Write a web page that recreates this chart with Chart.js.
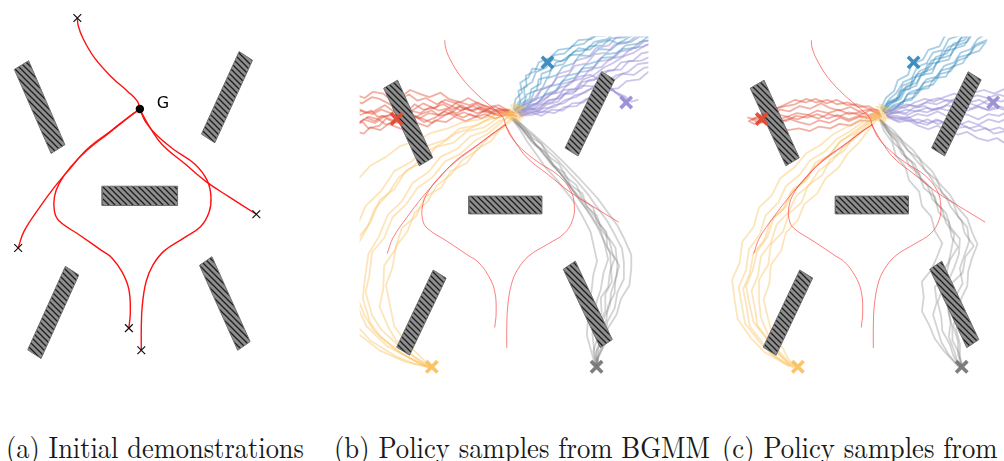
<!DOCTYPE html>
<html>
<head>
<meta charset="utf-8">
<script src="https://cdn.jsdelivr.net/npm/chart.js@4.4.1/dist/chart.umd.min.js"></script>
<style>
  html, body { margin: 0; padding: 0; background: #fff; width: 1004px; height: 461px; overflow: hidden; position: relative; }
  canvas { position: absolute; }
  .cap { position: absolute; font-family: "Liberation Serif", "Times New Roman", "Tinos", "DejaVu Serif", "Noto Serif", serif;
         font-size: 30px; line-height: 30px; white-space: nowrap; color: #1a1a1a; transform-origin: 0 0; }
</style>
</head>
<body>
<canvas id="panelA" width="295" height="385" style="left:0;top:0"></canvas>
<canvas id="panelB" width="312" height="360" style="left:348px;top:25px"></canvas>
<canvas id="panelC" width="312" height="360" style="left:715px;top:25px"></canvas>
<div class="cap" id="capA" style="left:6px;top:431px">(a) Initial demonstrations</div>
<div class="cap" id="capB" style="left:334px;top:431px">(b) Policy samples from BGMM</div>
<div class="cap" id="capC" style="left:722px;top:431px">(c) Policy samples from</div>
<script>
// ---- environment (workspace units) ----
const goal = [0, 9];
const goalText = 'G';

// rotated box obstacles, corners in order
const obstacles = [
  [[-13.15, 13.1], [-11.65, 14.0], [-7.85, 5.3], [-9.3, 4.4]],
  [[6.45, 6.4], [10.4, 14.95], [11.8, 14.05], [7.85, 5.5]],
  [[-3.95, -1.0], [3.95, -1.0], [3.95, 1.0], [-3.95, 1.0]],
  [[-11.75, -15.95], [-7.8, -7.3], [-6.4, -8.2], [-10.35, -16.85]],
  [[6.25, -7.2], [7.55, -6.3], [11.55, -15.1], [10.25, -16.0]]
];

// ---- demonstrations ----
const demoTop = [[-6.55, 18.43], [-6.45, 17.6], [-5.95, 16.3], [-4.75, 14.3], [-2.95, 12.3], [-1.25, 10.8], [-0.25, 9.8], [0, 9]];
const demoLeft = [[-12.75, -5.4], [-12.15, -3.7], [-10.65, -1.4], [-8.95, 0.9], [-7.25, 2.9], [-5.45, 4.9], [-2.95, 6.8], [-1.15, 8.2], [0, 9]];
const demoLowLeft = [[-1.15, -13.7], [-1.0, -12.1], [-1.15, -9.7], [-1.85, -7.9], [-2.95, -6.4], [-3.95, -5.7], [-6.25, -4.1], [-8.45, -2.6], [-8.95, -1.6], [-8.95, -0.1], [-8.45, 1.3], [-7.25, 3.0], [-5.45, 4.8], [-3.25, 6.5], [-0.95, 8.3], [0, 9]];
const demoLowRight = [[0.15, -16.0], [0.15, -13.7], [0.25, -11.4], [0.65, -8.9], [1.35, -7.2], [2.55, -5.7], [4.55, -4.4], [6.35, -3.2], [7.25, -1.7], [7.45, -0.1], [7.05, 1.6], [5.75, 3.3], [3.55, 4.8], [1.75, 6.3], [0.65, 7.6], [0.15, 8.6], [0, 9]];
const demoRight = [[12.2, -1.9], [9.35, -0.1], [7.05, 1.4], [4.75, 3.3], [2.35, 5.3], [1.05, 7.1], [0.25, 8.5], [0, 9]];
const demoStarts = [[-6.55, 18.43], [-12.75, -5.4], [-1.15, -13.7], [0.15, -16.0], [12.2, -1.9]];

// ---- policy samples, BGMM ----
const bgmmRed = [
  [[-16.6, 10.4], [-15.7, 10.1], [-14.5, 10.6], [-13.8, 9.9], [-12.5, 10.0], [-11.9, 10.8], [-10.6, 10.5], [-9.8, 11.3], [-8.9, 10.7], [-7.5, 10.9], [-6.9, 11.6], [-5.6, 11.0], [-4.8, 10.6], [-3.5, 11.1], [-2.4, 10.5], [-1.6, 10.8], [-0.4, 10.3], [0.8, 10.4]],
  [[-16.5, 9.0], [-15.4, 9.3], [-14.8, 8.6], [-13.6, 8.9], [-12.9, 9.7], [-11.8, 9.2], [-10.7, 9.4], [-10.0, 10.1], [-8.8, 9.6], [-7.9, 9.2], [-6.8, 9.9], [-5.9, 10.4], [-4.6, 9.8], [-3.8, 10.2], [-2.6, 9.7], [-1.5, 10.3], [-0.5, 10.0], [0.9, 10.1]],
  [[-16.3, 11.8], [-15.5, 11.4], [-14.4, 12.1], [-13.6, 11.9], [-12.3, 11.2], [-11.6, 11.8], [-10.4, 12.4], [-9.5, 11.7], [-8.6, 12.0], [-7.4, 11.3], [-6.5, 11.8], [-5.3, 11.4], [-4.4, 10.8], [-3.2, 11.3], [-2.3, 10.7], [-1.1, 11.0], [0.0, 10.5], [1.0, 10.3]],
  [[-16.4, 8.3], [-15.3, 8.0], [-14.6, 8.7], [-13.5, 8.4], [-12.6, 9.1], [-11.4, 8.6], [-10.6, 8.4], [-9.5, 9.2], [-8.4, 8.8], [-7.6, 9.5], [-6.4, 9.3], [-5.5, 9.9], [-4.3, 9.4], [-3.4, 9.8], [-2.2, 10.2], [-1.1, 9.7], [0.2, 10.2], [1.2, 10.0]],
  [[-16.0, 10.9], [-15.1, 10.3], [-14.2, 10.5], [-13.0, 11.2], [-12.2, 10.6], [-11.0, 10.1], [-10.1, 9.6], [-9.1, 10.2], [-8.0, 10.6], [-7.1, 10.0], [-5.9, 10.3], [-5.0, 11.0], [-3.9, 10.6], [-2.9, 10.9], [-1.7, 10.4], [-0.6, 10.8], [0.4, 10.6]],
  [[-15.0, 9.8], [-14.1, 9.4], [-13.3, 10.0], [-12.1, 9.5], [-11.2, 9.9], [-10.3, 10.6], [-9.2, 10.3], [-8.1, 11.0], [-7.2, 10.6], [-6.0, 10.9], [-5.1, 11.6], [-3.9, 11.2], [-3.0, 11.5], [-1.8, 10.9], [-0.8, 10.6], [0.5, 10.7]],
  [[-16.3, 12.4], [-15.2, 12.0], [-14.3, 12.7], [-13.2, 12.5], [-12.4, 11.8], [-11.2, 12.2], [-10.3, 12.9], [-9.1, 12.4], [-8.2, 12.1], [-7.0, 12.6], [-6.1, 11.9], [-4.9, 11.5], [-4.0, 12.0], [-2.8, 11.3], [-1.8, 11.0], [-0.7, 11.2], [0.3, 10.6]],
  [[-15.7, 9.3], [-14.8, 9.9], [-13.7, 9.6], [-12.9, 9.0], [-11.7, 9.5], [-10.9, 10.2], [-9.7, 9.9], [-8.8, 9.3], [-7.6, 9.8], [-6.6, 10.5], [-5.5, 10.0], [-4.5, 10.4], [-3.3, 9.9], [-2.4, 10.5], [-1.2, 10.2], [0.7, 10.5]],
  [[-16.5, 10.0], [-15.5, 10.6], [-14.4, 10.2], [-13.4, 10.7], [-12.4, 10.3], [-11.3, 9.8], [-10.4, 10.2], [-9.3, 9.7], [-8.3, 10.3], [-7.3, 10.1], [-6.3, 10.7], [-5.3, 10.3], [-4.2, 10.9], [-3.1, 10.3], [-2.0, 10.6], [-0.9, 10.1], [0.6, 10.3]],
  [[-16.2, 8.9], [-15.3, 9.6], [-14.1, 9.2], [-13.1, 9.9], [-11.9, 10.4], [-11.0, 9.9], [-9.9, 10.7], [-8.9, 11.4], [-7.8, 10.9], [-6.7, 11.3], [-5.8, 10.7], [-4.7, 11.2], [-3.6, 10.5], [-2.5, 11.0], [-1.4, 10.4], [0.2, 10.6]]
];
const bgmmBlue = [
  [[1.0, 10.6], [1.4, 11.5], [2.1, 12.1], [2.0, 13.2], [2.9, 13.8], [3.3, 14.9], [4.4, 15.4], [5.1, 16.3], [6.0, 16.1], [7.1, 16.9], [7.9, 17.6], [9.1, 17.4], [10.0, 18.2], [11.3, 18.5], [12.2, 18.1], [13.5, 18.9], [14.6, 19.4], [16.0, 19.6]],
  [[1.2, 10.4], [1.9, 11.2], [2.7, 11.6], [3.1, 12.7], [4.0, 13.1], [4.5, 14.2], [5.6, 14.6], [6.2, 15.5], [7.4, 15.9], [8.0, 16.8], [9.2, 16.7], [10.1, 17.5], [11.4, 17.4], [12.3, 18.2], [13.6, 18.3], [14.5, 18.9], [16.2, 19.0]],
  [[0.9, 10.8], [1.1, 11.9], [1.8, 12.6], [1.6, 13.7], [2.5, 14.3], [2.9, 15.3], [3.8, 15.2], [4.4, 16.2], [5.3, 16.8], [6.4, 17.0], [7.2, 17.8], [8.5, 18.1], [9.4, 18.9], [10.8, 19.0], [12.0, 19.7]],
  [[1.3, 10.3], [2.2, 10.9], [3.0, 11.8], [4.1, 12.2], [4.8, 13.3], [5.9, 13.6], [6.7, 14.5], [7.9, 14.8], [8.6, 15.7], [9.9, 16.1], [10.8, 16.9], [12.1, 17.1], [13.0, 17.9], [14.4, 18.1], [15.3, 18.8], [16.6, 19.0]],
  [[1.1, 10.5], [1.7, 11.4], [2.6, 11.9], [2.8, 13.0], [3.8, 13.6], [3.9, 14.7], [4.9, 15.1], [5.5, 16.0], [6.6, 16.3], [7.4, 17.2], [8.8, 17.4], [9.6, 18.3], [11.0, 18.6], [11.9, 19.4], [13.4, 19.6]],
  [[1.0, 10.7], [2.0, 11.3], [2.3, 12.4], [3.4, 12.9], [3.6, 14.1], [4.7, 14.4], [5.0, 15.5], [6.3, 15.8], [6.9, 16.8], [8.2, 16.9], [9.0, 17.8], [10.5, 17.9], [11.4, 18.7], [12.9, 18.8], [14.1, 19.6]],
  [[1.2, 10.6], [1.6, 11.6], [1.4, 12.8], [2.3, 13.3], [2.2, 14.5], [3.2, 15.0], [3.6, 16.0], [4.8, 16.5], [5.7, 17.4], [7.0, 17.6], [7.9, 18.5], [9.3, 18.6], [10.2, 19.4], [11.6, 19.6]],
  [[1.4, 10.4], [2.4, 11.0], [3.5, 11.4], [4.3, 12.4], [5.4, 12.8], [6.2, 13.9], [7.5, 14.3], [8.3, 15.3], [9.6, 15.5], [10.4, 16.5], [11.8, 16.6], [12.7, 17.5], [14.1, 17.6], [15.0, 18.4], [16.4, 18.6]]
];
const bgmmPurple = [
  [[1.5, 10.3], [2.5, 10.8], [3.6, 10.5], [4.5, 11.3], [5.7, 11.6], [6.4, 12.5], [7.6, 12.8], [8.3, 13.8], [9.6, 14.0], [10.4, 14.9], [11.7, 15.1], [12.5, 16.0], [13.8, 16.2], [14.7, 17.0], [16.2, 17.3]],
  [[1.4, 10.5], [2.3, 11.2], [3.4, 11.4], [4.2, 12.3], [5.4, 12.6], [6.1, 13.6], [7.3, 13.9], [8.0, 14.9], [9.3, 15.1], [10.0, 16.1], [11.4, 16.3], [12.2, 17.2], [13.6, 17.4], [14.5, 18.3], [15.9, 18.5]],
  [[1.6, 10.1], [2.8, 10.4], [3.9, 10.0], [5.0, 10.7], [6.2, 10.6], [7.2, 11.4], [8.4, 11.5], [9.4, 12.3], [10.6, 12.4], [11.5, 13.0], [12.2, 12.4], [12.7, 11.8], [13.1, 11.5]],
  [[1.5, 10.2], [2.6, 10.7], [3.8, 10.9], [4.7, 11.8], [6.0, 12.0], [6.9, 12.9], [8.2, 13.1], [9.0, 14.0], [10.3, 14.2], [11.1, 15.1], [12.5, 15.2], [13.3, 16.1], [14.7, 16.2], [16.2, 16.9]],
  [[1.3, 10.6], [2.1, 11.5], [3.1, 11.9], [3.8, 12.9], [4.9, 13.3], [5.6, 14.3], [6.8, 14.6], [7.5, 15.6], [8.8, 15.9], [9.6, 16.9], [11.0, 17.1], [11.8, 18.0], [13.2, 18.2], [14.2, 19.0], [15.7, 19.3]],
  [[1.7, 10.0], [2.9, 10.1], [4.1, 10.5], [5.3, 10.3], [6.4, 11.0], [7.7, 11.1], [8.7, 11.9], [10.0, 12.1], [10.9, 12.9], [12.2, 13.1], [13.1, 13.9], [14.5, 14.1], [15.4, 14.9], [16.6, 15.2]],
  [[1.5, 10.4], [2.5, 11.0], [3.7, 11.6], [4.6, 12.2], [5.8, 13.1], [6.9, 13.5], [7.9, 14.4], [9.2, 14.6], [10.1, 14.1], [11.2, 13.4], [11.9, 12.6], [12.8, 12.1], [13.2, 11.6]],
  [[1.6, 10.2], [2.7, 10.6], [3.9, 11.3], [5.0, 11.5], [6.1, 12.4], [7.3, 12.5], [8.2, 13.4], [9.5, 13.3], [10.5, 14.0], [11.6, 13.9], [12.6, 14.7], [13.9, 14.6], [15.0, 15.4], [16.4, 15.5]],
  [[1.4, 10.4], [2.2, 11.3], [3.3, 11.8], [3.9, 13.0], [5.1, 13.5], [5.7, 14.7], [7.0, 15.1], [7.6, 16.2], [9.0, 16.6], [9.8, 17.6], [11.2, 17.9], [12.0, 18.8], [13.5, 19.1], [14.9, 19.8]],
  [[1.6, 10.3], [2.6, 10.9], [3.5, 10.7], [4.4, 11.6], [5.5, 11.9], [6.3, 12.9], [7.5, 13.0], [8.4, 14.1], [9.5, 14.5], [10.6, 15.4], [11.6, 15.9], [12.8, 16.7], [13.9, 17.1], [15.1, 17.9], [16.3, 18.1]],
  [[1.7, 10.1], [2.9, 10.5], [4.0, 10.4], [5.2, 11.2], [6.3, 11.4], [7.5, 12.3], [8.6, 12.6], [9.8, 13.5], [10.8, 13.6], [11.9, 14.5], [13.2, 14.9], [14.3, 15.8], [15.6, 16.0], [16.6, 16.7]],
  [[1.5, 10.2], [2.7, 10.9], [3.8, 11.4], [4.9, 12.4], [6.0, 12.7], [7.0, 13.8], [8.3, 14.2], [9.1, 15.2], [10.4, 15.5], [11.3, 16.4], [12.7, 16.7], [13.6, 17.6], [15.0, 17.8], [16.4, 18.6]],
  [[1.6, 10.0], [2.8, 10.3], [4.0, 10.8], [5.3, 11.0], [6.5, 11.8], [7.6, 12.1], [8.9, 12.9], [9.9, 13.2], [11.1, 13.1], [12.0, 12.6], [12.9, 12.2], [13.6, 11.6], [14.3, 11.8]]
];
const bgmmGray = [
  [[0.8, 9.8], [1.9, 8.5], [2.7, 7.4], [4.1, 6.0], [4.9, 4.8], [6.2, 3.3], [7.0, 2.1], [8.1, 0.5], [8.9, -0.7], [9.9, -2.4], [10.5, -3.7], [11.3, -5.4], [11.4, -6.8], [11.5, -8.6], [10.8, -10.0], [10.8, -11.9], [10.1, -13.3], [10.3, -15.1], [9.8, -16.5], [9.8, -18.1]],
  [[1.0, 9.6], [2.2, 8.4], [3.2, 7.6], [4.5, 6.1], [5.5, 5.2], [6.8, 3.7], [7.7, 2.7], [9.0, 1.1], [9.8, -0.1], [11.0, -1.8], [11.7, -3.1], [12.6, -4.9], [12.8, -6.4], [12.8, -8.3], [12.1, -9.8], [11.8, -11.6], [11.0, -13.1], [10.8, -15.0], [10.1, -16.5], [9.9, -18.1]],
  [[0.6, 9.9], [1.6, 8.4], [2.3, 7.2], [3.4, 5.6], [4.2, 4.4], [5.5, 2.9], [6.4, 1.7], [7.6, 0.1], [8.3, -1.2], [9.2, -3.0], [9.5, -4.4], [9.9, -6.3], [9.5, -7.8], [9.3, -9.7], [8.9, -11.2], [8.9, -13.1], [8.8, -14.6], [9.3, -16.5], [9.7, -18.0]],
  [[1.2, 9.5], [2.6, 8.3], [3.7, 7.3], [5.2, 5.9], [6.2, 4.9], [7.6, 3.4], [8.6, 2.3], [10.0, 0.7], [10.9, -0.6], [12.1, -2.3], [12.8, -3.7], [13.6, -5.6], [13.6, -7.1], [13.4, -9.0], [12.5, -10.5], [12.0, -12.3], [11.1, -13.8], [10.7, -15.7], [10.0, -17.1], [9.9, -18.2]],
  [[0.9, 9.7], [2.1, 8.2], [3.0, 7.1], [4.3, 5.5], [5.2, 4.5], [6.4, 2.9], [7.2, 1.7], [8.4, 0.0], [9.3, -1.2], [10.3, -2.9], [10.7, -4.3], [11.1, -6.1], [10.6, -7.6], [10.3, -9.5], [9.8, -11.0], [9.8, -12.9], [9.4, -14.4], [9.6, -16.3], [9.8, -18.1]],
  [[0.7, 9.6], [1.7, 8.6], [2.9, 7.0], [3.8, 6.2], [5.0, 4.5], [5.9, 3.6], [7.2, 1.8], [8.0, 0.9], [9.3, -0.8], [10.1, -1.9], [11.1, -3.6], [11.9, -4.8], [12.1, -6.8], [12.0, -8.0], [11.4, -9.9], [11.3, -11.2], [10.5, -13.0], [10.4, -14.4], [10.0, -16.2], [9.9, -18.0]],
  [[0.8, 9.6], [1.5, 8.9], [2.6, 7.9], [3.3, 6.7], [4.5, 5.8], [5.2, 4.4], [6.4, 3.6], [7.0, 2.3], [8.3, 1.3], [8.8, -0.2], [9.9, -1.2], [10.3, -2.7], [11.2, -3.9], [11.6, -5.5], [12.3, -6.8], [11.9, -8.3], [11.8, -9.9], [11.1, -11.3], [10.9, -12.9], [10.4, -14.3], [10.5, -16.0], [10.0, -17.2], [9.9, -18.1]],
  [[1.1, 9.7], [2.0, 8.8], [2.8, 7.6], [3.9, 6.9], [4.6, 5.5], [5.8, 4.6], [6.5, 3.2], [7.7, 2.2], [8.3, 0.7], [9.5, -0.3], [9.9, -1.9], [10.9, -3.0], [11.0, -4.7], [11.8, -6.0], [11.3, -7.5], [11.1, -9.2], [10.3, -10.4], [10.4, -12.1], [9.7, -13.4], [9.9, -15.1], [9.5, -16.4], [9.8, -18.0]]
];
const bgmmYellow = [
  [[0.8, 10.2], [-0.4, 9.3], [-1.9, 8.0], [-3.3, 7.2], [-4.9, 5.7], [-6.5, 4.9], [-7.9, 3.1], [-9.5, 1.9], [-10.7, 0.1], [-12.2, -1.4], [-13.1, -3.7], [-14.4, -5.3], [-14.7, -7.9], [-15.1, -9.8], [-14.4, -12.4], [-13.4, -14.0], [-11.4, -15.9], [-10.0, -16.9], [-8.2, -18.1]],
  [[0.6, 10.4], [-0.9, 9.7], [-2.3, 8.7], [-4.1, 8.3], [-5.6, 7.0], [-7.5, 6.5], [-8.9, 4.8], [-10.7, 3.9], [-12.0, 1.8], [-13.6, 0.5], [-14.6, -2.0], [-15.9, -3.7], [-16.2, -6.7], [-16.6, -8.8], [-15.8, -11.8], [-15.0, -13.6], [-12.8, -15.8], [-11.0, -16.8], [-8.5, -18.1]],
  [[1.0, 10.0], [-0.4, 8.8], [-1.5, 7.2], [-3.0, 6.3], [-4.2, 4.7], [-5.9, 3.8], [-6.9, 2.0], [-8.7, 0.9], [-9.6, -1.2], [-11.2, -2.6], [-11.9, -5.0], [-13.1, -6.8], [-13.2, -9.5], [-13.6, -11.4], [-12.6, -13.8], [-11.8, -15.2], [-9.8, -17.1], [-8.4, -18.0]],
  [[0.5, 10.5], [-1.3, 10.0], [-2.9, 9.0], [-4.9, 8.6], [-6.5, 7.3], [-8.5, 6.6], [-10.1, 4.9], [-12.0, 3.8], [-13.4, 1.6], [-15.1, -0.1], [-16.2, -2.8], [-17.3, -5.0], [-17.5, -8.2], [-17.4, -10.6], [-16.0, -13.6], [-14.6, -15.2], [-11.8, -17.0], [-9.8, -17.8], [-8.0, -18.2]],
  [[0.9, 10.1], [-0.7, 9.4], [-2.1, 8.3], [-3.8, 7.7], [-5.2, 6.3], [-7.0, 5.4], [-8.3, 3.7], [-10.0, 2.5], [-11.2, 0.4], [-12.7, -1.1], [-13.7, -3.6], [-14.8, -5.5], [-15.2, -8.4], [-15.4, -10.5], [-14.6, -13.2], [-13.5, -14.8], [-11.1, -16.7], [-9.5, -17.6], [-8.0, -18.3]],
  [[0.7, 10.3], [-0.6, 9.9], [-2.3, 9.4], [-3.8, 8.6], [-5.4, 8.0], [-6.9, 6.9], [-8.6, 5.9], [-9.9, 4.4], [-11.5, 3.1], [-12.7, 1.2], [-14.1, -0.4], [-15.0, -2.7], [-16.0, -4.5], [-16.1, -7.4], [-16.3, -9.6], [-15.2, -12.4], [-14.2, -14.1], [-11.9, -16.2], [-10.2, -17.3], [-8.3, -18.2]],
  [[1.1, 9.9], [-0.3, 8.6], [-1.8, 7.6], [-3.1, 6.1], [-4.7, 5.0], [-5.9, 3.4], [-7.4, 2.2], [-8.4, 0.4], [-9.8, -0.9], [-10.6, -3.0], [-11.8, -4.6], [-12.2, -7.0], [-12.9, -9.0], [-12.4, -11.6], [-12.0, -13.6], [-10.6, -15.6], [-9.3, -16.9], [-8.1, -18.1]],
  [[0.6, 10.4], [-1.1, 10.1], [-2.8, 9.6], [-4.6, 9.3], [-6.2, 8.6], [-8.0, 8.1], [-9.6, 7.2], [-11.4, 6.6], [-12.9, 5.4], [-14.6, 4.4], [-16.0, 2.8], [-17.2, 0.8], [-18.0, -2.0], [-18.3, -5.0], [-18.2, -8.5], [-17.6, -11.5], [-16.2, -14.2], [-13.6, -16.3], [-10.8, -17.6], [-8.4, -18.2]],
  [[0.2, 10.8], [1.4, 10.1], [0.5, 9.6], [1.8, 10.9], [0.9, 11.4], [2.0, 10.2], [0.4, 10.3], [1.6, 9.5], [1.1, 11.0]],
  [[1.3, 11.2], [0.3, 10.0], [1.9, 9.8], [1.0, 10.6], [2.2, 11.0], [0.6, 11.2], [1.4, 9.3], [0.1, 9.9]]
];
const bgmmStarts = { red: [-11.75, 9.65], blue: [4.55, 16.0], purple: [13.05, 11.5], gray: [9.85, -18.15], yellow: [-7.95, -18.15] };

// ---- policy samples, second model ----
const modelRed = [
  [[0.8, 10.3], [-0.2, 10.7], [-1.4, 10.5], [-2.3, 11.0], [-3.5, 10.6], [-4.6, 10.9], [-5.5, 11.4], [-6.7, 10.8], [-7.8, 11.1], [-8.9, 10.5], [-9.9, 10.7], [-11.0, 10.2], [-12.1, 9.9], [-13.2, 9.5]],
  [[0.9, 10.1], [-0.2, 9.7], [-1.3, 9.9], [-2.5, 9.4], [-3.4, 9.8], [-4.6, 9.2], [-5.7, 9.5], [-6.7, 9.0], [-7.9, 9.3], [-9.0, 9.7], [-10.1, 9.2], [-11.2, 9.5], [-12.3, 9.3], [-13.0, 9.6]],
  [[0.7, 10.5], [-0.4, 11.1], [-1.5, 11.0], [-2.6, 11.5], [-3.8, 11.3], [-4.8, 11.8], [-6.0, 11.5], [-7.1, 11.9], [-8.3, 11.3], [-9.3, 11.1], [-10.5, 10.8], [-11.5, 10.2], [-12.2, 9.8]],
  [[1.0, 10.0], [-0.1, 9.4], [-1.2, 9.5], [-2.3, 8.9], [-3.5, 9.1], [-4.5, 8.6], [-5.7, 8.8], [-6.7, 8.3], [-7.9, 8.6], [-9.0, 8.4], [-10.1, 8.8], [-11.2, 9.2], [-12.3, 9.4]],
  [[0.8, 10.4], [-0.3, 10.1], [-1.4, 10.4], [-2.5, 10.2], [-3.6, 10.7], [-4.7, 10.3], [-5.9, 10.6], [-6.9, 10.1], [-8.1, 10.3], [-9.2, 9.9], [-10.3, 10.2], [-11.4, 9.8], [-12.5, 9.6], [-13.4, 9.8]],
  [[0.9, 10.2], [-0.2, 10.6], [-1.3, 10.1], [-2.5, 10.4], [-3.6, 9.9], [-4.7, 10.2], [-5.8, 9.7], [-6.9, 10.1], [-8.0, 9.6], [-9.2, 9.9], [-10.3, 9.5], [-11.4, 9.7], [-12.0, 9.5]],
  [[0.7, 10.6], [-0.4, 10.8], [-1.6, 11.3], [-2.7, 11.2], [-3.8, 11.8], [-4.9, 11.4], [-6.1, 11.9], [-7.2, 11.5], [-8.3, 11.8], [-9.5, 11.2], [-10.6, 10.7], [-11.7, 10.3], [-12.8, 9.7]],
  [[0.8, 10.2], [-0.3, 9.9], [-1.4, 10.0], [-2.5, 9.6], [-3.7, 10.1], [-4.8, 9.7], [-5.9, 10.2], [-7.0, 9.8], [-8.2, 10.0], [-9.3, 9.4], [-10.4, 9.7], [-11.6, 9.3], [-12.7, 9.1], [-13.3, 9.4]]
];
const modelBlue = [
  [[1.2, 10.6], [1.8, 11.6], [2.9, 12.1], [3.3, 13.4], [4.5, 13.9], [5.1, 15.0], [6.3, 15.5], [6.9, 16.6], [8.1, 17.0], [8.8, 18.1], [10.0, 18.5], [10.8, 19.6]],
  [[1.4, 10.4], [2.3, 11.2], [3.3, 11.5], [4.0, 12.6], [5.1, 13.0], [5.9, 14.1], [7.0, 14.4], [7.8, 15.6], [8.9, 16.0], [9.6, 17.1], [10.7, 17.5], [11.4, 18.6], [12.3, 19.2]],
  [[1.0, 10.9], [1.5, 12.0], [2.4, 12.8], [2.8, 14.0], [3.9, 14.6], [4.3, 15.8], [5.5, 16.3], [6.1, 17.4], [7.3, 17.8], [7.9, 19.0], [9.0, 19.5]],
  [[1.3, 10.5], [2.1, 11.5], [3.0, 12.1], [3.7, 13.3], [4.8, 13.7], [5.5, 14.9], [6.6, 15.3], [7.3, 16.4], [8.5, 16.8], [9.2, 17.9], [10.3, 18.3], [11.0, 19.4]],
  [[1.5, 10.3], [2.6, 10.9], [3.6, 11.8], [4.6, 12.1], [5.5, 13.2], [6.6, 13.5], [7.4, 14.7], [8.5, 15.0], [9.3, 16.2], [10.3, 16.6], [11.0, 17.7], [12.0, 18.2]],
  [[1.1, 10.7], [1.9, 11.9], [2.6, 12.5], [3.4, 13.8], [4.3, 14.2], [4.9, 15.5], [5.9, 15.9], [6.6, 17.1], [7.7, 17.4], [8.3, 18.6], [9.4, 19.0], [10.1, 19.9]],
  [[1.3, 10.5], [2.0, 11.3], [3.1, 11.9], [3.6, 12.9], [4.8, 13.4], [5.3, 14.6], [6.5, 14.8], [7.0, 16.0], [8.3, 16.3], [8.8, 17.5], [10.0, 17.9], [10.6, 19.0], [11.6, 19.5]],
  [[1.2, 10.5], [1.7, 11.4], [2.6, 11.7], [3.0, 12.8], [4.1, 13.0], [4.4, 14.3], [5.6, 14.6], [6.0, 15.8], [7.2, 16.0], [7.6, 17.2], [8.9, 17.5], [9.5, 18.6], [10.6, 19.2]],
  [[1.4, 10.3], [2.4, 10.7], [3.2, 11.6], [4.3, 11.8], [4.9, 12.9], [6.1, 13.1], [6.7, 14.2], [8.0, 14.4], [8.6, 15.5], [9.8, 15.9], [10.4, 16.9], [11.6, 17.3], [12.3, 18.3]],
  [[1.3, 10.6], [1.9, 11.5], [2.8, 11.9], [3.4, 13.0], [4.3, 13.5], [4.8, 14.6], [5.9, 15.0], [6.4, 16.2], [7.6, 16.6], [8.2, 17.7], [9.3, 18.1], [9.9, 19.3]],
  [[1.4, 10.4], [2.2, 11.0], [3.3, 11.3], [3.8, 12.4], [4.9, 12.6], [5.6, 13.7], [6.7, 14.0], [7.5, 15.1], [8.7, 15.4], [9.4, 16.6], [10.6, 16.9], [11.2, 18.0], [12.4, 18.5]]
];
const modelPurple = [
  [[1.6, 10.2], [2.6, 10.5], [3.7, 10.3], [4.5, 10.9], [5.7, 11.1], [6.5, 10.6], [7.7, 11.0], [8.6, 11.6], [9.8, 11.3], [10.7, 10.8], [11.9, 11.4], [12.8, 11.9], [14.0, 11.6], [15.0, 12.1]],
  [[1.7, 10.0], [2.8, 9.7], [3.9, 9.9], [4.8, 9.3], [6.0, 9.0], [6.9, 9.6], [8.1, 9.2], [9.0, 8.6], [10.2, 8.8], [11.1, 8.3], [12.3, 8.6], [13.2, 8.0], [14.4, 8.3], [15.3, 7.8]],
  [[1.5, 10.4], [2.5, 11.0], [3.6, 10.9], [4.6, 11.5], [5.7, 11.9], [6.7, 11.6], [7.8, 12.1], [8.9, 12.5], [10.0, 12.1], [11.0, 12.6], [12.1, 12.9], [13.2, 12.5], [14.3, 13.0], [15.3, 12.8]],
  [[1.8, 9.8], [2.9, 9.3], [3.9, 9.5], [5.0, 8.9], [6.1, 8.5], [7.1, 8.9], [8.2, 8.2], [9.3, 7.9], [10.3, 8.2], [11.4, 7.5], [12.5, 7.2], [13.5, 7.5], [14.6, 6.8], [15.5, 6.5]],
  [[1.6, 10.1], [2.7, 10.0], [3.8, 9.7], [4.9, 10.2], [6.0, 10.0], [7.1, 10.5], [8.2, 9.9], [9.3, 10.3], [10.4, 10.1], [11.5, 9.6], [12.6, 10.2], [13.7, 10.0], [14.8, 10.5], [15.6, 10.2]],
  [[1.7, 10.2], [2.8, 10.7], [3.9, 11.2], [5.0, 11.0], [6.1, 11.7], [7.2, 12.0], [8.3, 11.6], [9.4, 12.1], [10.5, 11.5], [11.6, 11.8], [12.5, 11.3], [13.3, 11.6]],
  [[1.6, 10.0], [2.7, 9.5], [3.8, 9.7], [4.9, 9.2], [6.0, 9.6], [7.1, 9.1], [8.2, 9.4], [9.3, 8.9], [10.4, 9.4], [11.5, 9.0], [12.6, 9.6], [13.7, 9.3], [14.8, 9.8], [15.6, 9.5]],
  [[1.5, 10.3], [2.6, 10.3], [3.7, 10.7], [4.8, 10.5], [5.9, 10.9], [7.0, 10.7], [8.1, 11.2], [9.2, 10.8], [10.3, 11.5], [11.4, 11.1], [12.5, 10.7], [13.6, 11.1], [14.7, 10.8], [15.6, 11.2]],
  [[1.6, 10.1], [2.7, 10.4], [3.8, 10.1], [4.9, 10.6], [6.0, 10.4], [7.1, 10.9], [8.2, 10.6], [9.3, 11.0], [10.4, 10.6], [11.5, 11.0], [12.6, 10.6], [13.7, 10.9], [14.8, 10.5], [15.6, 10.8]],
  [[1.7, 9.9], [2.8, 9.8], [3.9, 9.4], [5.0, 9.6], [6.1, 9.2], [7.2, 9.5], [8.3, 8.9], [9.4, 9.2], [10.5, 8.6], [11.6, 8.9], [12.7, 8.4], [13.8, 8.7], [14.9, 8.1], [15.6, 8.4]],
  [[1.5, 10.4], [2.6, 10.8], [3.7, 11.3], [4.8, 11.1], [5.9, 11.5], [7.0, 11.3], [8.1, 11.8], [9.2, 11.6], [10.3, 12.0], [11.4, 12.3], [12.5, 12.0], [13.6, 12.4], [14.7, 12.1], [15.6, 12.4]]
];
const modelGray = [
  [[0.9, 9.6], [1.6, 8.3], [2.6, 7.2], [3.2, 5.8], [4.3, 4.8], [4.9, 3.3], [6.0, 2.2], [6.5, 0.7], [7.6, -0.5], [8.0, -2.0], [8.9, -3.3], [8.6, -4.9], [8.3, -6.4], [7.5, -7.8], [7.6, -9.5], [7.1, -10.9], [7.5, -12.6], [7.6, -14.1], [8.4, -15.6], [8.8, -16.9], [9.5, -18.1]],
  [[1.1, 9.4], [2.0, 8.3], [3.1, 7.4], [3.9, 6.1], [5.1, 5.2], [5.8, 3.8], [7.0, 2.8], [7.6, 1.3], [8.8, 0.2], [9.3, -1.3], [10.3, -2.5], [10.5, -4.1], [10.0, -5.6], [9.5, -7.1], [9.8, -8.8], [9.0, -10.3], [9.2, -12.0], [8.8, -13.6], [9.3, -15.3], [9.3, -16.8], [9.7, -18.1]],
  [[0.8, 9.7], [1.3, 8.3], [2.2, 7.0], [2.6, 5.5], [3.6, 4.3], [4.0, 2.8], [5.1, 1.5], [5.4, -0.1], [6.4, -1.3], [6.8, -2.9], [7.6, -4.3], [7.0, -5.9], [6.4, -7.3], [5.4, -8.6], [5.6, -10.3], [5.4, -11.9], [6.2, -13.5], [6.8, -15.0], [7.8, -16.4], [8.7, -17.4], [9.4, -18.2]],
  [[1.2, 9.3], [2.3, 8.4], [3.3, 7.2], [4.4, 6.2], [5.4, 4.9], [6.5, 3.8], [7.3, 2.4], [8.4, 1.2], [9.2, -0.2], [10.3, -1.5], [10.8, -3.0], [11.4, -4.4], [10.8, -6.0], [10.4, -7.5], [10.3, -9.1], [9.6, -10.6], [9.5, -12.3], [9.1, -13.9], [9.5, -15.6], [9.5, -17.0], [9.8, -18.2]],
  [[1.0, 9.5], [1.8, 8.2], [2.8, 7.1], [3.5, 5.6], [4.6, 4.6], [5.3, 3.0], [6.4, 1.9], [6.9, 0.3], [8.0, -0.9], [8.5, -2.5], [9.5, -3.8], [9.4, -5.5], [8.9, -7.0], [8.3, -8.4], [8.7, -10.1], [8.2, -11.6], [8.5, -13.3], [8.3, -14.8], [8.9, -16.4], [9.2, -17.5], [9.6, -18.1]],
  [[0.9, 9.5], [1.7, 8.4], [2.4, 6.9], [3.4, 6.0], [4.0, 4.4], [5.1, 3.5], [5.6, 1.9], [6.8, 0.9], [7.2, -0.8], [8.3, -1.9], [8.6, -3.6], [9.3, -4.7], [8.4, -6.2], [8.0, -7.9], [6.8, -9.2], [7.0, -10.9], [6.6, -12.3], [7.1, -14.0], [7.5, -15.4], [8.3, -16.8], [9.3, -18.0]],
  [[1.1, 9.4], [2.1, 8.1], [2.9, 7.3], [4.1, 5.9], [4.8, 5.0], [6.1, 3.5], [6.7, 2.5], [8.0, 0.9], [8.5, -0.2], [9.7, -1.8], [10.0, -3.1], [11.0, -4.6], [10.1, -5.8], [9.8, -7.6], [8.6, -8.8], [8.9, -10.6], [8.3, -12.0], [8.7, -13.8], [8.7, -15.2], [9.4, -16.6], [9.7, -18.1]]
];
const modelYellow = [
  [[0.6, 10.1], [-0.6, 8.9], [-1.8, 7.5], [-3.2, 6.4], [-4.3, 4.9], [-5.8, 3.8], [-6.8, 2.2], [-8.2, 1.0], [-9.0, -0.8], [-10.3, -2.2], [-10.9, -4.2], [-12.0, -5.8], [-12.3, -7.9], [-13.0, -9.6], [-12.6, -11.8], [-12.4, -13.5], [-11.0, -15.3], [-10.1, -16.7], [-8.6, -18.1]],
  [[0.4, 10.3], [-0.9, 9.4], [-2.3, 8.3], [-3.8, 7.4], [-5.1, 6.0], [-6.7, 5.0], [-7.8, 3.4], [-9.3, 2.1], [-10.1, 0.3], [-11.5, -1.2], [-12.1, -3.3], [-13.3, -5.0], [-13.6, -7.3], [-14.4, -9.2], [-14.0, -11.6], [-13.7, -13.3], [-12.2, -15.3], [-11.0, -16.6], [-8.8, -18.0]],
  [[0.7, 9.9], [-0.3, 8.5], [-1.4, 7.0], [-2.6, 5.8], [-3.6, 4.2], [-5.0, 3.0], [-5.9, 1.3], [-7.3, 0.1], [-8.0, -1.7], [-9.3, -3.1], [-9.8, -5.1], [-10.9, -6.7], [-11.1, -8.9], [-11.7, -10.6], [-11.2, -12.8], [-10.8, -14.4], [-9.6, -16.1], [-9.1, -17.2], [-8.2, -18.2]],
  [[0.5, 10.2], [-0.8, 9.1], [-2.1, 8.1], [-3.6, 6.9], [-4.7, 5.5], [-6.3, 4.3], [-7.3, 2.6], [-8.8, 1.4], [-9.6, -0.5], [-11.0, -1.8], [-11.6, -3.9], [-12.8, -5.4], [-13.2, -7.7], [-13.9, -9.4], [-13.5, -11.7], [-13.2, -13.6], [-11.7, -15.6], [-10.6, -16.9], [-9.0, -18.1]],
  [[0.6, 10.0], [-0.5, 8.7], [-1.9, 7.8], [-3.0, 6.1], [-4.5, 5.1], [-5.4, 3.3], [-6.9, 2.2], [-7.6, 0.3], [-9.0, -1.0], [-9.6, -3.0], [-10.9, -4.4], [-11.2, -6.7], [-12.2, -8.4], [-12.2, -10.7], [-12.0, -12.6], [-11.2, -14.6], [-10.4, -16.0], [-9.2, -17.4], [-8.4, -18.1]],
  [[0.3, 10.4], [-1.1, 9.7], [-2.6, 8.8], [-4.1, 8.0], [-5.6, 6.7], [-7.1, 5.8], [-8.4, 4.2], [-9.9, 3.0], [-10.8, 1.1], [-12.2, -0.3], [-12.8, -2.5], [-14.0, -4.1], [-14.3, -6.5], [-15.1, -8.4], [-14.8, -10.9], [-14.5, -12.8], [-13.1, -14.9], [-11.6, -16.5], [-9.4, -17.8], [-8.5, -18.2]],
  [[0.6, 10.1], [-0.7, 9.0], [-1.9, 8.0], [-3.4, 7.2], [-4.5, 5.6], [-6.1, 4.8], [-7.0, 2.9], [-8.5, 1.8], [-9.3, -0.2], [-10.6, -1.4], [-11.3, -3.6], [-12.4, -5.2], [-12.9, -7.4], [-13.6, -9.1], [-13.2, -11.3], [-12.8, -13.1], [-11.5, -14.9], [-10.4, -16.3], [-8.9, -17.9]],
  [[0.1, 10.7], [1.3, 10.0], [0.4, 9.5], [1.7, 10.8], [0.8, 11.3], [1.9, 10.3], [0.3, 10.0], [1.5, 9.4], [1.0, 10.9]],
  [[1.2, 11.1], [0.2, 9.9], [1.8, 9.7], [0.9, 10.5], [2.1, 10.9], [0.5, 11.0], [1.3, 9.2], [0.0, 9.8]]
];
const modelStarts = { red: [-11.9, 9.65], blue: [4.5, 16.0], purple: [13.1, 11.5], gray: [9.7, -18.15], yellow: [-8.0, -18.15] };

// ---- styling ----
const palette = { red: '#E24A33', blue: '#348ABD', purple: '#988ED5', gray: '#777777', yellow: '#FBC15E' };
const traceAlpha = { red: 0.44, blue: 0.42, purple: 0.5, gray: 0.32, yellow: 0.42 };

function rgba(hex, a) {
  const n = parseInt(hex.slice(1), 16);
  return `rgba(${(n >> 16) & 255},${(n >> 8) & 255},${n & 255},${a})`;
}
const pts = arr => arr.map(([x, y]) => ({ x, y }));

function hatchPattern() {
  const c = document.createElement('canvas');
  c.width = 6; c.height = 6;
  const g = c.getContext('2d');
  g.fillStyle = '#8e8e8e';
  g.fillRect(0, 0, 6, 6);
  g.strokeStyle = '#1c1c1c';
  g.lineWidth = 1.25;
  g.beginPath();
  for (const k of [-6, 0, 6]) { g.moveTo(k - 1, -1); g.lineTo(k + 7, 7); }
  g.stroke();
  return g.createPattern(c, 'repeat');
}

function lineSet(path, color, width, order, tension) {
  return {
    data: pts(path), showLine: true, fill: false, borderColor: color, borderWidth: width,
    pointRadius: 0, tension: tension || 0, order, borderJoinStyle: 'round', borderCapStyle: 'round'
  };
}

function obstacleSets(pattern) {
  const sets = [];
  for (const corners of obstacles) {
    let i0 = 0;
    corners.forEach((c, i) => { if (c[0] < corners[i0][0]) i0 = i; });
    const ring = corners.slice(i0).concat(corners.slice(0, i0));
    let right = corners[0];
    corners.forEach(c => { if (c[0] > right[0]) right = c; });
    sets.push({ data: pts([...ring, ring[0], right]), showLine: true, fill: 'shape', backgroundColor: pattern,
                borderWidth: 0, pointRadius: 0, tension: 0, order: 6 });
    sets.push({ data: pts([...ring, ring[0]]), showLine: true, fill: false, borderColor: '#6e6e6e',
                borderWidth: 1, pointRadius: 0, tension: 0, order: 5 });
  }
  return sets;
}

const demos = [demoTop, demoLeft, demoLowLeft, demoLowRight, demoRight];

// groups earlier in the list get a lower order and so are painted above later ones
function samplePanel(groups, starts, pattern) {
  const sets = [];
  groups.forEach(([name, paths], gi) => {
    for (const p of paths) sets.push(lineSet(p, rgba(palette[name], traceAlpha[name]), 1.8, 10 + gi));
  });
  sets.push(...obstacleSets(pattern));
  for (const d of demos) sets.push(lineSet(d, 'rgba(250,50,50,0.7)', 0.9, 3, 0.4));
  for (const name of Object.keys(starts)) {
    sets.push({ data: pts([starts[name]]), showLine: false, pointStyle: 'crossRot', pointRadius: 8,
                borderColor: rgba(palette[name], 0.95), borderWidth: 3.6, backgroundColor: 'transparent',
                order: 1, clip: false });
  }
  return sets;
}

function options(r) {
  return {
    responsive: false, animation: false, devicePixelRatio: 1, events: [],
    layout: { padding: 0 },
    plugins: { legend: { display: false }, tooltip: { enabled: false } },
    scales: {
      x: { type: 'linear', min: r[0], max: r[1], display: false },
      y: { type: 'linear', min: r[2], max: r[3], display: false }
    }
  };
}

const goalLabelPlugin = {
  id: 'goalLabel',
  afterDatasetsDraw(chart) {
    const { ctx, scales } = chart;
    ctx.save();
    ctx.font = '16px "DejaVu Sans", sans-serif';
    ctx.fillStyle = '#000';
    ctx.textBaseline = 'middle';
    ctx.fillText(goalText, scales.x.getPixelForValue(goal[0]) + 17, scales.y.getPixelForValue(goal[1]) - 5);
    ctx.restore();
  }
};

const pattern = hatchPattern();

// (a) initial demonstrations
const setsA = [...obstacleSets(pattern)];
for (const d of demos) setsA.push(lineSet(d, '#ff1010', 1.4, 3, 0.4));
setsA.push({ data: pts(demoStarts), showLine: false, pointStyle: 'crossRot', pointRadius: 5.5,
             borderColor: '#111', borderWidth: 1.2, order: 1, clip: false });
setsA.push({ data: pts([goal]), showLine: false, pointStyle: 'circle', pointRadius: 4.2,
             backgroundColor: '#000', borderWidth: 0, order: 0, clip: false });
new Chart(document.getElementById('panelA'), {
  type: 'scatter', data: { datasets: setsA },
  options: options([-13.95, 15.55, -18.9, 19.6]), plugins: [goalLabelPlugin]
});

// (b) BGMM samples
new Chart(document.getElementById('panelB'), {
  type: 'scatter',
  data: { datasets: samplePanel([['yellow', bgmmYellow], ['gray', bgmmGray], ['purple', bgmmPurple], ['blue', bgmmBlue], ['red', bgmmRed]], bgmmStarts, pattern) },
  options: options([-15.75, 15.45, -18.89, 18.89])
});

// (c) second model samples
new Chart(document.getElementById('panelC'), {
  type: 'scatter',
  data: { datasets: samplePanel([['yellow', modelYellow], ['gray', modelGray], ['purple', modelPurple], ['blue', modelBlue], ['red', modelRed]], modelStarts, pattern) },
  options: options([-15.7, 15.5, -18.89, 18.89])
});

// caption font: first serif family that is actually present
function pickSerif() {
  const g = document.createElement('canvas').getContext('2d');
  const probe = 'Policy samples from BGMM (a)';
  g.font = '30px zzNoSuchFont';
  const base = g.measureText(probe).width;
  g.font = '30px monospace';
  const mono = g.measureText(probe).width;
  const fams = ['Latin Modern Roman', 'CMU Serif', 'Liberation Serif', 'Times New Roman', 'Tinos', 'FreeSerif',
                'Nimbus Roman', 'TeX Gyre Termes', 'Noto Serif', 'DejaVu Serif'];
  for (const fam of fams) {
    g.font = `30px "${fam}", zzNoSuchFont`;
    const w = g.measureText(probe).width;
    if (Math.abs(w - base) > 0.5) return `"${fam}"`;
    g.font = `30px "${fam}", monospace`;
    if (Math.abs(g.measureText(probe).width - mono) > 0.5) return `"${fam}"`;
  }
  return 'serif';
}
const serifFamily = pickSerif();
function fitCaption(id, width, scale) {
  const el = document.getElementById(id);
  el.style.fontFamily = serifFamily;
  const s = scale || width / el.getBoundingClientRect().width;
  el.style.transform = `scaleX(${s})`;
  return s;
}
fitCaption('capA', 298);
const sb = fitCaption('capB', 376);
fitCaption('capC', 0, sb);
</script>
</body>
</html>
